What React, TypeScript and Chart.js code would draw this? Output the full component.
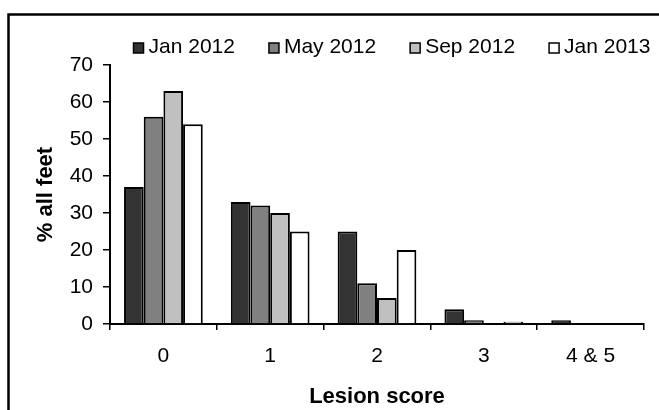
import React, { useEffect, useRef } from 'react';
import { Chart, registerables } from 'chart.js';

Chart.register(...registerables);

const categories = ['0', '1', '2', '3', '4 & 5'];
const seriesLabels = ['Jan 2012', 'May 2012', 'Sep 2012', 'Jan 2013'];
const jan2012 = [37, 33, 25, 4, 1];
const may2012 = [56, 32, 11, 1, 0];
const sep2012 = [63, 30, 7, 0, 0];
const jan2013 = [54, 25, 20, 0.6, 0];
const seriesColors = ['#333333', '#808080', '#c0c0c0', '#ffffff'];
const yMin = 0;
const yMax = 70;
const yStep = 10;
const xTitle = 'Lesion score';
const yTitle = '% all feet';

const FONT = '"Liberation Sans", Arial, Helvetica, sans-serif';

const framePlugin = {
  id: 'frame',
  beforeDraw(chart: any) {
    const ctx = chart.ctx;
    ctx.save();
    ctx.fillStyle = '#ffffff';
    ctx.fillRect(0, 0, chart.width, chart.height);
    ctx.strokeStyle = '#000000';
    ctx.lineWidth = 2.5;
    ctx.beginPath();
    ctx.moveTo(8.5, chart.height);
    ctx.lineTo(8.5, 14.5);
    ctx.lineTo(chart.width, 14.5);
    ctx.stroke();
    ctx.restore();
  },
};

const legendPlugin = {
  id: 'customLegend',
  afterDraw(chart: any) {
    const ctx = chart.ctx;
    ctx.save();
    ctx.font = `21px ${FONT}`;
    ctx.textBaseline = 'middle';
    ctx.textAlign = 'left';
    const box = 10;
    const gap = 5;
    const itemGap = 34;
    const items = chart.data.datasets.map((ds: any) => ({
      label: ds.label,
      color: ds.backgroundColor,
      w: box + gap + ctx.measureText(ds.label).width,
    }));
    const total = items.reduce((s: number, it: any) => s + it.w, 0) + itemGap * (items.length - 1);
    let x = 392 - total / 2;
    const yText = 47;
    const yBox = 48;
    items.forEach((it: any) => {
      ctx.fillStyle = it.color;
      ctx.fillRect(x, yBox - box / 2, box, box);
      ctx.strokeStyle = '#000';
      ctx.lineWidth = 1.5;
      ctx.strokeRect(x, yBox - box / 2, box, box);
      ctx.fillStyle = '#000';
      ctx.fillText(it.label, x + box + gap, yText);
      x += it.w + itemGap;
    });
    ctx.restore();
  },
};

export default function App() {
  const ref = useRef<HTMLCanvasElement>(null);

  useEffect(() => {
    if (!ref.current) return;
    const seriesData = [jan2012, may2012, sep2012, jan2013];
    const chart = new Chart(ref.current, {
      type: 'bar',
      data: {
        labels: categories,
        datasets: seriesLabels.map((label, i) => ({
          label,
          data: seriesData[i],
          backgroundColor: seriesColors[i],
          borderColor: '#000000',
          borderWidth: 2,
          barPercentage: 1,
          categoryPercentage: 0.737,
        })),
      },
      options: {
        animation: false,
        responsive: false,
        devicePixelRatio: 1,
        layout: { padding: { top: 65, right: 15, left: 0, bottom: 0 } },
        plugins: {
          legend: { display: false },
          tooltip: { enabled: false },
        },
        scales: {
          x: {
            grid: {
              offset: true,
              drawOnChartArea: false,
              drawTicks: true,
              tickLength: 6,
              color: '#000',
              lineWidth: 1.5,
            },
            border: { color: '#000', width: 2 },
            ticks: {
              color: '#000',
              font: { family: FONT, size: 21 },
              padding: 14,
              maxRotation: 0,
            },
            title: {
              display: true,
              text: xTitle,
              color: '#000',
              font: { family: FONT, size: 22, weight: 'bold' },
              padding: { top: 0, bottom: 0 },
            },
            afterFit(scale: any) {
              scale.height = 86;
            },
          },
          y: {
            min: yMin,
            max: yMax,
            ticks: {
              stepSize: yStep,
              color: '#000',
              font: { family: FONT, size: 21 },
              padding: 10,
            },
            grid: {
              drawOnChartArea: false,
              drawTicks: true,
              tickLength: 7,
              color: '#000',
              lineWidth: 1.5,
            },
            border: { color: '#000', width: 2 },
            title: {
              display: true,
              text: yTitle,
              color: '#000',
              font: { family: FONT, size: 22, weight: 'bold' },
              padding: { top: 33, bottom: 0 },
            },
            afterFit(scale: any) {
              scale.width = 110;
            },
          },
        },
      },
      plugins: [framePlugin, legendPlugin],
    });
    return () => chart.destroy();
  }, []);

  return (
    <div style={{ position: 'fixed', left: 0, top: 0, width: 659, height: 410, background: '#fff' }}>
      <canvas ref={ref} width={659} height={410} style={{ display: 'block', width: 659, height: 410 }} />
    </div>
  );
}
